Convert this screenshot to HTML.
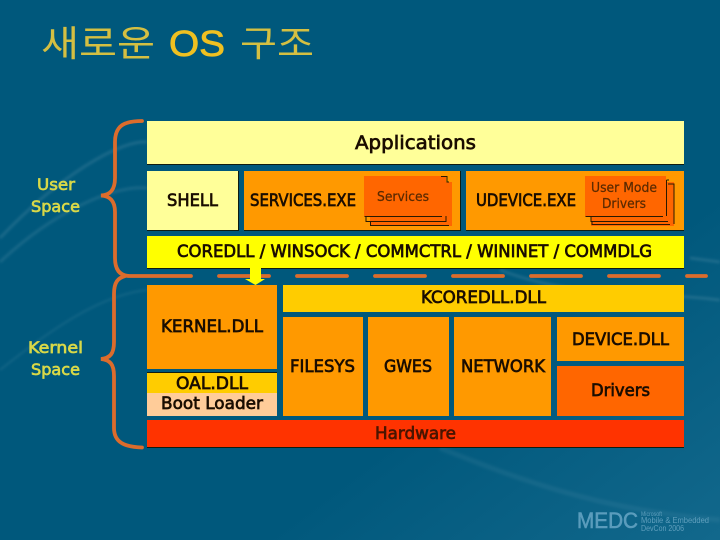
<!DOCTYPE html>
<html><head><meta charset="utf-8"><style>
html,body{margin:0;padding:0;width:720px;height:540px;overflow:hidden;background:#00587c}
svg{display:block}
text{font-family:"DejaVu Sans","Liberation Sans",sans-serif;font-weight:normal;fill:#1a0d00;stroke:#1a0d00;stroke-width:.7px}
.k{font-family:"Liberation Sans","Noto Sans CJK KR",sans-serif;font-weight:normal;fill:#d4bf42;stroke:none}
.l{fill:#d8d848;stroke:#d8d848;font-size:16px}
.s{font-size:13px;fill:#5a2a00;stroke:#5a2a00;stroke-width:.25px}
.m{font-family:"Liberation Sans",sans-serif;fill:#5f9fbd;stroke:none}
</style></head><body>
<svg width="720" height="540" viewBox="0 0 720 540" xmlns="http://www.w3.org/2000/svg">
<defs>
<linearGradient id="bg" x1="0" y1="0" x2="1" y2="1"><stop offset="0.68" stop-color="#00587c"/><stop offset="1" stop-color="#12688c"/></linearGradient>
<filter id="b"><feGaussianBlur stdDeviation="1.2"/></filter>
</defs>
<rect width="720" height="540" fill="url(#bg)"/>
<g fill="none" stroke="#fff" filter="url(#b)">
<path d="M0 238C60 175 120 140 147 142" stroke-opacity=".1" stroke-width="3"/>
<path d="M0 262C50 215 110 185 147 188" stroke-opacity=".09" stroke-width="3"/>
<path d="M0 370C50 330 100 295 147 290" stroke-opacity=".07" stroke-width="2"/>
<path d="M500 270C580 300 640 290 720 300" stroke-opacity=".1" stroke-width="3"/>
<path d="M440 448C520 480 600 510 720 520" stroke-opacity=".05" stroke-width="5"/>
<path d="M690 258L720 262" stroke-opacity=".1" stroke-width="3"/>
</g>

<!-- title -->
<text class="k" x="41" y="56" font-size="36" textLength="114" lengthAdjust="spacingAndGlyphs">새로운</text>
<text x="169" y="56" font-size="36" textLength="56" lengthAdjust="spacingAndGlyphs" style="font-family:'Liberation Sans',sans-serif;fill:#efc021;stroke:#efc021;stroke-width:.8px">OS</text>
<text class="k" x="240" y="56" font-size="36" textLength="74" lengthAdjust="spacingAndGlyphs">구조</text>

<!-- brackets -->
<g fill="none" stroke="#dc6c2c" stroke-width="3.8" stroke-linecap="round">
<path d="M142 121C125 121 115 125 115 142V178C115 190 110 195 101 195.500C110 196 115 201 115 212V258C115 270 120 276 130 276H191"/>
<path d="M125 276C118 278 114 282 114 294V342C114 354 110 358 101 359C110 360 114 364 114 376V428C114 442 124 447 142 447.500"/>
<path d="M219 276H269M297 276H347M375 276H425M453 276H503M531 276H581M609 276H659M687 276H706"/>
</g>

<!-- boxes -->
<g stroke="none">
<rect x="147" y="121" width="537" height="44" fill="#101c10"/><rect x="147" y="121" width="537" height="43" fill="#ffff99"/>
<rect x="147" y="171" width="92" height="60" fill="#101c10"/><rect x="147" y="171" width="91" height="59" fill="#ffff99"/>
<rect x="244" y="171" width="217" height="60" fill="#101c10"/><rect x="244" y="171" width="216" height="59" fill="#ff9900"/>
<rect x="466" y="171" width="218" height="60" fill="#101c10"/><rect x="466" y="171" width="218" height="59" fill="#ff9900"/>
<rect x="147" y="236" width="537" height="33" fill="#101c10"/><rect x="147" y="236" width="537" height="32" fill="#ffff00"/>

<rect x="147" y="285" width="130" height="84" fill="#ff9900"/>
<rect x="147" y="372" width="130" height="1" fill="#101c10"/>
<rect x="147" y="373" width="130" height="20" fill="#ffcc00"/>
<rect x="147" y="393" width="130" height="23" fill="#ffcc99"/>
<rect x="283" y="285" width="401" height="27" fill="#ffcc00"/>
<rect x="283" y="317" width="80" height="99" fill="#ff9900"/>
<rect x="368" y="317" width="81" height="99" fill="#ff9900"/>
<rect x="454" y="317" width="97" height="99" fill="#ff9900"/>
<rect x="557" y="317" width="127" height="44" fill="#ff9900"/>
<rect x="557" y="366" width="127" height="50" fill="#ff6600"/>
<rect x="147" y="420" width="537" height="28" fill="#101c10"/><rect x="147" y="420" width="537" height="27" fill="#ff3300"/>
</g>

<!-- arrow -->
<path d="M250 268H261V279H265L255.500 285L245 279H250Z" fill="#ffff00"/>

<!-- stacks -->
<g fill="#ff6600" stroke="none">
<rect x="370" y="182" width="82" height="44"/><rect x="364" y="176" width="82" height="40"/>
<rect x="591" y="182" width="83" height="44"/><rect x="585" y="176" width="81" height="40"/>
</g>
<g fill="none" stroke="#2a1a00" stroke-width="1">
<path d="M364.500 216.500H442M366 216.500V221.500H446V216M370.500 221.500V225.500H449M441 176.500H447V182H449"/>
<path d="M585.500 216.500H663M591 216.500V221.500H668M592 221.500V224.500H670M666.500 180V216M666.500 180H669M668 184H674V224"/>
</g>

<!-- labels -->
<text class="l" x="37" y="190" textLength="38" lengthAdjust="spacingAndGlyphs">User</text>
<text class="l" x="31" y="212" textLength="49" lengthAdjust="spacingAndGlyphs">Space</text>
<text class="l" x="28" y="353" textLength="55" lengthAdjust="spacingAndGlyphs">Kernel</text>
<text class="l" x="31" y="375" textLength="49" lengthAdjust="spacingAndGlyphs">Space</text>

<text x="355" y="149" font-size="19" textLength="121" lengthAdjust="spacingAndGlyphs">Applications</text>
<text x="167" y="206" font-size="17" textLength="51" lengthAdjust="spacingAndGlyphs">SHELL</text>
<text x="250" y="206" font-size="17" textLength="106" lengthAdjust="spacingAndGlyphs">SERVICES.EXE</text>
<text class="s" x="377" y="201" textLength="52" lengthAdjust="spacingAndGlyphs">Services</text>
<text x="476" y="206" font-size="17" textLength="100" lengthAdjust="spacingAndGlyphs">UDEVICE.EXE</text>
<text class="s" x="591" y="192" textLength="66" lengthAdjust="spacingAndGlyphs">User Mode</text>
<text class="s" x="602" y="208" textLength="44" lengthAdjust="spacingAndGlyphs">Drivers</text>
<text x="177" y="257" font-size="17" textLength="475" lengthAdjust="spacingAndGlyphs">COREDLL / WINSOCK / COMMCTRL / WININET / COMMDLG</text>
<text x="421" y="303" font-size="17" textLength="125" lengthAdjust="spacingAndGlyphs">KCOREDLL.DLL</text>
<text x="161" y="332" font-size="17" textLength="102" lengthAdjust="spacingAndGlyphs">KERNEL.DLL</text>
<text x="176" y="389" font-size="17" textLength="72" lengthAdjust="spacingAndGlyphs">OAL.DLL</text>
<text x="161" y="409" font-size="17" textLength="102" lengthAdjust="spacingAndGlyphs">Boot Loader</text>
<text x="290" y="372" font-size="17" textLength="65" lengthAdjust="spacingAndGlyphs">FILESYS</text>
<text x="384" y="372" font-size="17" textLength="48" lengthAdjust="spacingAndGlyphs">GWES</text>
<text x="461" y="372" font-size="17" textLength="84" lengthAdjust="spacingAndGlyphs">NETWORK</text>
<text x="572" y="345" font-size="17" textLength="97" lengthAdjust="spacingAndGlyphs">DEVICE.DLL</text>
<text x="591" y="396" font-size="17" textLength="59" lengthAdjust="spacingAndGlyphs">Drivers</text>
<text x="375" y="439" font-size="17" textLength="81" lengthAdjust="spacingAndGlyphs" style="fill:#4a1500;stroke:#4a1500">Hardware</text>

<!-- logo -->
<text x="577" y="528" font-size="22" textLength="61" lengthAdjust="spacingAndGlyphs" style="font-family:'Liberation Sans',sans-serif;fill:#5a9cbc;stroke:#5a9cbc;stroke-width:.6px">MEDC</text>
<text class="m" x="641" y="516" font-size="6" textLength="21" lengthAdjust="spacingAndGlyphs">Microsoft</text>
<text class="m" x="641" y="523" font-size="8" textLength="68" lengthAdjust="spacingAndGlyphs">Mobile &amp; Embedded</text>
<text class="m" x="641" y="531" font-size="8" textLength="43" lengthAdjust="spacingAndGlyphs">DevCon 2006</text>
</svg>
</body></html>
